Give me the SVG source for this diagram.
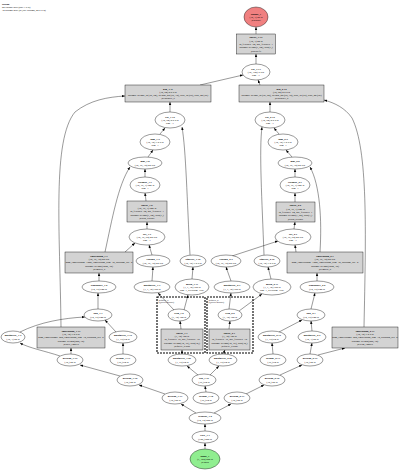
<svg xmlns="http://www.w3.org/2000/svg" width="400" height="470" viewBox="0 0 400 470">
<style>
.t{font-family:"Liberation Serif","DejaVu Serif",serif;font-size:2.7px;text-anchor:middle;fill:#000}
.h{font-family:"Liberation Serif","DejaVu Serif",serif;font-size:2.6px;fill:#000}
.s{font-family:"Liberation Serif","DejaVu Serif",serif;font-size:2.4px;fill:#000}
.b{font-weight:bold}
.e{fill:#fff;stroke:#000;stroke-width:0.4}
.p{fill:#d3d3d3;stroke:#000;stroke-width:0.4}
.c{fill:none;stroke:#000;stroke-width:1.1;stroke-dasharray:2 1}
.l{fill:none;stroke:#000;stroke-width:0.4;marker-end:url(#a)}
</style>
<defs>
<marker id="a" viewBox="0 0 10 10" refX="10" refY="5" markerWidth="3" markerHeight="3" markerUnits="userSpaceOnUse" orient="auto"><path d="M0,1L10,5L0,9z" fill="#000"/></marker>
</defs>
<rect width="400" height="470" fill="#fff"/>
<g id="header">
<text class="h b" x="2" y="4.5">Debug</text>
<text class="h" x="2" y="7.8">94 tensors total (297.1 KB)</text>
<text class="h" x="2" y="11.1">34 params total (23,681 params, 92.5 KB)</text>
</g>
<g id="clusters">
<g id="cluster_query_a"><rect class="c" x="157" y="297" width="48" height="56"/><text class="s" x="158.5" y="300.5">@query_a</text><text class="s" x="158.5" y="303.3">(QueryEncoder)</text></g>
<g id="cluster_query_b"><rect class="c" x="207" y="297" width="46" height="56"/><text class="s" x="208.5" y="300.5">@query_b</text><text class="s" x="208.5" y="303.3">(QueryEncoder)</text></g>
</g>
<g id="connectors">
<path class="l" d="M205,449L205,443"/>
<path class="l" d="M205,431L205,424"/>
<path class="l" d="M196,413L181,404"/>
<path class="l" d="M214,413L231,404"/>
<path class="l" d="M206,392L205,386"/>
<path class="l" d="M198,375L187,366"/>
<path class="l" d="M210,375L219,366"/>
<path class="l" d="M182,354L182,350"/>
<path class="l" d="M223,354L225,350"/>
<path class="l" d="M181,329L180,321"/>
<path class="l" d="M229,329L230,321"/>
<path class="l" d="M174,310L158,293"/>
<path class="l" d="M184,310L188,295"/>
<path class="l" d="M229,309L231,293"/>
<path class="l" d="M239,311L262,294"/>
<path class="l" d="M152,281L153,267"/>
<path class="l" d="M192,279L193,267"/>
<path class="l" d="M231,281L226,267"/>
<path class="l" d="M271,279L268,267"/>
<path class="l" d="M152,255L149,245"/>
<path class="l" d="M125,252L135,243"/>
<path class="l" d="M232,256L278,241"/>
<path class="l" d="M296,252L295,245"/>
<path class="l" d="M99,281L99,273"/>
<path class="l" d="M317,281L317,273"/>
<path class="l" d="M98,309L98,293"/>
<path class="l" d="M311,309L315,293"/>
<path class="l" d="M116,332L105,320"/>
<path class="l" d="M20,332C40,322 64,318 85,317"/>
<path class="l" d="M279,332L302,320"/>
<path class="l" d="M312,331L311,321"/>
<path class="l" d="M123,354L123,343"/>
<path class="l" d="M273,354L272,343"/>
<path class="l" d="M60,356C45,351 29,348 20,343"/>
<path class="l" d="M71,354L71,348"/>
<path class="l" d="M310,354L312,343"/>
<path class="l" d="M318,355L345,348"/>
<path class="l" d="M120,376L80,365"/>
<path class="l" d="M165,394L139,385"/>
<path class="l" d="M246,394L264,385"/>
<path class="l" d="M280,375L302,365"/>
<path class="l" d="M61,327C60,230 52,140 75,112C90,100 108,97 125,96"/>
<path class="l" d="M364,327C366,230 368,150 352,118C345,108 335,103 324,100"/>
<path class="l" d="M105,252C112,220 118,185 130,167"/>
<path class="l" d="M320,252C322,220 320,185 310,167"/>
<path class="l" d="M190,255C187,200 186,150 182,127"/>
<path class="l" d="M264,255C262,200 259,150 262,127"/>
<path class="l" d="M147,229L147,222"/>
<path class="l" d="M294,229L295,222"/>
<path class="l" d="M146,201L145,193"/>
<path class="l" d="M295,202L295,193"/>
<path class="l" d="M145,177L145,169"/>
<path class="l" d="M295,177L295,169"/>
<path class="l" d="M148,157L153,150"/>
<path class="l" d="M292,157L286,150"/>
<path class="l" d="M160,134L165,128"/>
<path class="l" d="M279,134L274,128"/>
<path class="l" d="M170,112L170,102"/>
<path class="l" d="M270,112L270,102"/>
<path class="l" d="M200,85L243,75"/>
<path class="l" d="M260,85L258,80"/>
<path class="l" d="M256,64L256,54"/>
<path class="l" d="M256,34L256,27"/>
</g>
<g id="output_1"><ellipse cx="256" cy="17" rx="12" ry="10" fill="#f08080" stroke="#000" stroke-width="0.4"/><text class="t" x="256" y="14.65"><tspan class="b">output_1</tspan><tspan x="256" dy="3.3">(10, 1) 40 B</tspan><tspan x="256" dy="3.3">@output</tspan></text></g>
<g id="linear_3_14"><rect class="p" x="236.5" y="34" width="39" height="20"/><text class="t" x="256" y="38.35"><tspan class="b">linear_3.14</tspan><tspan x="256" dy="3.3">(10, 1) 40 B</tspan><tspan x="256" dy="3.3">in_features=64, out_features=1</tspan><tspan x="256" dy="3.3">params: weight(1, 64), bias(1,)</tspan><tspan x="256" dy="3.3">@head.fc</tspan></text></g>
<g id="cat_3_13"><ellipse class="e" cx="256" cy="72" rx="14" ry="8"/><text class="t" x="256" y="69.65"><tspan class="b">cat_3.13</tspan><tspan x="256" dy="3.3">(10, 128) 5 KB</tspan><tspan x="256" dy="3.3">dim=-1</tspan></text></g>
<g id="gru_1_11"><rect class="p" x="125" y="85" width="86" height="17"/><text class="t" x="168" y="89.5"><tspan class="b">gru_1.11</tspan><tspan x="168" dy="3.3">(10, 64) 2.5 KB</tspan><tspan x="168" dy="3.3">params: weight_ih (96, 64), weight_hh (96, 32), bias_ih (96), bias_hh (96)</tspan><tspan x="168" dy="3.3">@encoder_a</tspan></text></g>
<g id="gru_2_12"><rect class="p" x="239" y="85" width="85" height="17"/><text class="t" x="281.5" y="89.5"><tspan class="b">gru_2.12</tspan><tspan x="281.5" dy="3.3">(10, 64) 2.5 KB</tspan><tspan x="281.5" dy="3.3">params: weight_ih (96, 64), weight_hh (96, 32), bias_ih (96), bias_hh (96)</tspan><tspan x="281.5" dy="3.3">@encoder_b</tspan></text></g>
<g id="cat_1_10"><ellipse class="e" cx="170" cy="120" rx="15" ry="8"/><text class="t" x="170" y="117.65"><tspan class="b">cat_1.10</tspan><tspan x="170" dy="3.3">(10, 64) 2.5 KB</tspan><tspan x="170" dy="3.3">dim=-1</tspan></text></g>
<g id="sum_1_9"><ellipse class="e" cx="155" cy="142" rx="15" ry="8"/><text class="t" x="155" y="139.65"><tspan class="b">sum_1.9</tspan><tspan x="155" dy="3.3">(10, 32) 1.2 KB</tspan><tspan x="155" dy="3.3">dim=1</tspan></text></g>
<g id="mul_1_8"><ellipse class="e" cx="145" cy="163" rx="17" ry="6"/><text class="t" x="145" y="162.3"><tspan class="b">mul_1.8</tspan><tspan x="145" dy="3.3">(10, 16, 32) 20 KB</tspan></text></g>
<g id="softmax_1_7"><ellipse class="e" cx="145" cy="185" rx="15" ry="8"/><text class="t" x="145" y="182.65"><tspan class="b">softmax_1.7</tspan><tspan x="145" dy="3.3">(10, 16, 1) 640 B</tspan><tspan x="145" dy="3.3">dim=1</tspan></text></g>
<g id="linear_1_6"><rect class="p" x="127" y="201" width="40" height="21"/><text class="t" x="147" y="205.85"><tspan class="b">linear_1.6</tspan><tspan x="147" dy="3.3">(10, 16, 1) 640 B</tspan><tspan x="147" dy="3.3">in_features=64, out_features=1</tspan><tspan x="147" dy="3.3">params: weight(1, 64), bias(1,)</tspan><tspan x="147" dy="3.3">@attn_a.score</tspan></text></g>
<g id="cat_1_5"><ellipse class="e" cx="147" cy="237" rx="18" ry="8"/><text class="t" x="147" y="234.65"><tspan class="b">cat_1.5</tspan><tspan x="147" dy="3.3">(10, 16, 64) 40 KB</tspan><tspan x="147" dy="3.3">dim=-1</tspan></text></g>
<g id="embedding_1_3"><rect class="p" x="65" y="252" width="68" height="21"/><text class="t" x="99" y="256.85"><tspan class="b">embedding_1.3</tspan><tspan x="99" dy="3.3">(10, 16, 32) 20 KB</tspan><tspan x="99" dy="3.3">num_embeddings=1000, embedding_dim=32, padding_idx=0</tspan><tspan x="99" dy="3.3">params: weight(1000, 32)</tspan><tspan x="99" dy="3.3">@embed_a</tspan></text></g>
<g id="expand_1_4"><ellipse class="e" cx="153" cy="261" rx="17" ry="6"/><text class="t" x="153" y="260.3"><tspan class="b">expand_1.4</tspan><tspan x="153" dy="3.3">(10, 16, 32) 20 KB</tspan></text></g>
<g id="squeeze_1_12"><ellipse class="e" cx="193" cy="261" rx="13" ry="6"/><text class="t" x="193" y="260.3"><tspan class="b">squeeze_1.12</tspan><tspan x="193" dy="3.3">(10, 32) 1.2 KB</tspan></text></g>
<g id="remainder_1_2"><ellipse class="e" cx="99" cy="287" rx="17" ry="6"/><text class="t" x="99" y="286.3"><tspan class="b">remainder_1.2</tspan><tspan x="99" dy="3.3">(10, 16) 640 B</tspan></text></g>
<g id="unsqueeze_1_3"><ellipse class="e" cx="152" cy="287" rx="18" ry="6"/><text class="t" x="152" y="286.3"><tspan class="b">unsqueeze_1.3</tspan><tspan x="152" dy="3.3">(1, 1, 32) 128 B</tspan></text></g>
<g id="mean_1_11"><ellipse class="e" cx="192" cy="287" rx="17" ry="8"/><text class="t" x="192" y="284.65"><tspan class="b">mean_1.11</tspan><tspan x="192" dy="3.3">(1, 1, 32) 128 B</tspan><tspan x="192" dy="3.3">dim=1, keepdim=True</tspan></text></g>
<g id="add_1_1"><ellipse class="e" cx="98" cy="315" rx="14" ry="6"/><text class="t" x="98" y="314.3"><tspan class="b">add_1.1</tspan><tspan x="98" dy="3.3">(10, 16) 640 B</tspan></text></g>
<g id="relu_1_2"><ellipse class="e" cx="179" cy="315" rx="11" ry="6"/><text class="t" x="179" y="314.3"><tspan class="b">relu_1.2</tspan><tspan x="179" dy="3.3">(1, 32) 128 B</tspan></text></g>
<g id="linear_1_1"><rect class="p" x="161" y="329" width="42" height="21"/><text class="t" x="182" y="333.85"><tspan class="b">linear_1.1</tspan><tspan x="182" dy="3.3">(1, 32) 128 B</tspan><tspan x="182" dy="3.3">in_features=16, out_features=32</tspan><tspan x="182" dy="3.3">params: weight(32, 16), bias(32,)</tspan><tspan x="182" dy="3.3">@query_a.proj</tspan></text></g>
<g id="relu_2_2"><ellipse class="e" cx="230" cy="315" rx="12" ry="6"/><text class="t" x="230" y="314.3"><tspan class="b">relu_2.2</tspan><tspan x="230" dy="3.3">(1, 32) 128 B</tspan></text></g>
<g id="linear_2_1"><rect class="p" x="209" y="329" width="41" height="21"/><text class="t" x="229.5" y="333.85"><tspan class="b">linear_2.1</tspan><tspan x="229.5" dy="3.3">(1, 32) 128 B</tspan><tspan x="229.5" dy="3.3">in_features=16, out_features=32</tspan><tspan x="229.5" dy="3.3">params: weight(32, 16), bias(32,)</tspan><tspan x="229.5" dy="3.3">@query_b.proj</tspan></text></g>
<g id="unsqueeze_1_20"><ellipse class="e" cx="182" cy="360" rx="14" ry="6"/><text class="t" x="182" y="359.3"><tspan class="b">unsqueeze_1.20</tspan><tspan x="182" dy="3.3">(1, 16) 64 B</tspan></text></g>
<g id="unsqueeze_2_20"><ellipse class="e" cx="223" cy="360" rx="14" ry="6"/><text class="t" x="223" y="359.3"><tspan class="b">unsqueeze_2.20</tspan><tspan x="223" dy="3.3">(1, 16) 64 B</tspan></text></g>
<g id="flip_1_19"><ellipse class="e" cx="204" cy="380" rx="12" ry="6"/><text class="t" x="204" y="379.3"><tspan class="b">flip_1.19</tspan><tspan x="204" dy="3.3">(16,) 64 B</tspan></text></g>
<g id="getitem_1_17"><ellipse class="e" cx="175" cy="398" rx="13" ry="6"/><text class="t" x="175" y="397.3"><tspan class="b">getitem_1.17</tspan><tspan x="175" dy="3.3">(10,) 40 B</tspan></text></g>
<g id="arange_1_18"><ellipse class="e" cx="206" cy="398" rx="13" ry="6"/><text class="t" x="206" y="397.3"><tspan class="b">arange_1.18</tspan><tspan x="206" dy="3.3">(16,) 64 B</tspan></text></g>
<g id="getitem_2_17"><ellipse class="e" cx="237" cy="398" rx="13" ry="6"/><text class="t" x="237" y="397.3"><tspan class="b">getitem_2.17</tspan><tspan x="237" dy="3.3">(10,) 40 B</tspan></text></g>
<g id="reshape_1_2"><ellipse class="e" cx="205" cy="418" rx="16" ry="6"/><text class="t" x="205" y="417.3"><tspan class="b">reshape_1.2</tspan><tspan x="205" dy="3.3">(10, 10) 400 B</tspan></text></g>
<g id="view_1_1"><ellipse class="e" cx="205" cy="437" rx="13" ry="6"/><text class="t" x="205" y="436.3"><tspan class="b">view_1.1</tspan><tspan x="205" dy="3.3">(100,) 400 B</tspan></text></g>
<g id="input_1"><ellipse cx="205" cy="459" rx="15" ry="10" fill="#90ee90" stroke="#000" stroke-width="0.4"/><text class="t" x="205" y="456.65"><tspan class="b">input_1</tspan><tspan x="205" dy="3.3">(1, 100) 400 B</tspan><tspan x="205" dy="3.3">@input</tspan></text></g>
<g id="getitem_1_16"><ellipse class="e" cx="130" cy="380" rx="13" ry="6"/><text class="t" x="130" y="379.3"><tspan class="b">getitem_1.16</tspan><tspan x="130" dy="3.3">(10,) 40 B</tspan></text></g>
<g id="getitem_1_15"><ellipse class="e" cx="70" cy="360" rx="13" ry="6"/><text class="t" x="70" y="359.3"><tspan class="b">getitem_1.15</tspan><tspan x="70" dy="3.3">(10,) 40 B</tspan></text></g>
<g id="arange_1_13"><ellipse class="e" cx="123" cy="360" rx="13" ry="6"/><text class="t" x="123" y="359.3"><tspan class="b">arange_1.13</tspan><tspan x="123" dy="3.3">(16,) 64 B</tspan></text></g>
<g id="unsqueeze_1_14"><ellipse class="e" cx="123" cy="337" rx="14" ry="6"/><text class="t" x="123" y="336.3"><tspan class="b">unsqueeze_1.14</tspan><tspan x="123" dy="3.3">(1, 16) 64 B</tspan></text></g>
<g id="unsqueeze_1_4"><ellipse class="e" cx="13" cy="337" rx="12" ry="6"/><text class="t" x="13" y="336.3"><tspan class="b">unsqueeze_1.4</tspan><tspan x="13" dy="3.3">(10, 1) 40 B</tspan></text></g>
<g id="embedding_1_13"><rect class="p" x="37" y="327" width="68" height="21"/><text class="t" x="71" y="331.85"><tspan class="b">embedding_1.13</tspan><tspan x="71" dy="3.3">(10, 32) 1.2 KB</tspan><tspan x="71" dy="3.3">num_embeddings=500, embedding_dim=32, padding_idx=0</tspan><tspan x="71" dy="3.3">params: weight(500, 32)</tspan><tspan x="71" dy="3.3">@user_embed</tspan></text></g>
<g id="getitem_2_16"><ellipse class="e" cx="272" cy="380" rx="13" ry="6"/><text class="t" x="272" y="379.3"><tspan class="b">getitem_2.16</tspan><tspan x="272" dy="3.3">(10,) 40 B</tspan></text></g>
<g id="getitem_2_15"><ellipse class="e" cx="310" cy="360" rx="13" ry="6"/><text class="t" x="310" y="359.3"><tspan class="b">getitem_2.15</tspan><tspan x="310" dy="3.3">(10,) 40 B</tspan></text></g>
<g id="arange_2_13"><ellipse class="e" cx="273" cy="360" rx="13" ry="6"/><text class="t" x="273" y="359.3"><tspan class="b">arange_2.13</tspan><tspan x="273" dy="3.3">(16,) 64 B</tspan></text></g>
<g id="unsqueeze_2_14"><ellipse class="e" cx="272" cy="337" rx="14" ry="6"/><text class="t" x="272" y="336.3"><tspan class="b">unsqueeze_2.14</tspan><tspan x="272" dy="3.3">(1, 16) 64 B</tspan></text></g>
<g id="unsqueeze_2_4"><ellipse class="e" cx="312" cy="337" rx="14" ry="6"/><text class="t" x="312" y="336.3"><tspan class="b">unsqueeze_2.4</tspan><tspan x="312" dy="3.3">(10, 1) 40 B</tspan></text></g>
<g id="embedding_2_13"><rect class="p" x="332" y="327" width="66" height="21"/><text class="t" x="365" y="331.85"><tspan class="b">embedding_2.13</tspan><tspan x="365" dy="3.3">(10, 32) 1.2 KB</tspan><tspan x="365" dy="3.3">num_embeddings=500, embedding_dim=32, padding_idx=0</tspan><tspan x="365" dy="3.3">params: weight(500, 32)</tspan><tspan x="365" dy="3.3">@item_embed</tspan></text></g>
<g id="add_2_1"><ellipse class="e" cx="311" cy="315" rx="14" ry="6"/><text class="t" x="311" y="314.3"><tspan class="b">add_2.1</tspan><tspan x="311" dy="3.3">(10, 16) 640 B</tspan></text></g>
<g id="remainder_2_2"><ellipse class="e" cx="317" cy="287" rx="17" ry="6"/><text class="t" x="317" y="286.3"><tspan class="b">remainder_2.2</tspan><tspan x="317" dy="3.3">(10, 16) 640 B</tspan></text></g>
<g id="mean_2_11"><ellipse class="e" cx="272" cy="287" rx="19" ry="8"/><text class="t" x="272" y="284.65"><tspan class="b">mean_2.11</tspan><tspan x="272" dy="3.3">(1, 1, 32) 128 B</tspan><tspan x="272" dy="3.3">dim=1, keepdim=True</tspan></text></g>
<g id="unsqueeze_2_3"><ellipse class="e" cx="232" cy="287" rx="18" ry="6"/><text class="t" x="232" y="286.3"><tspan class="b">unsqueeze_2.3</tspan><tspan x="232" dy="3.3">(1, 1, 32) 128 B</tspan></text></g>
<g id="expand_2_4"><ellipse class="e" cx="226" cy="261" rx="15" ry="6"/><text class="t" x="226" y="260.3"><tspan class="b">expand_2.4</tspan><tspan x="226" dy="3.3">(10, 16, 32) 20 KB</tspan></text></g>
<g id="squeeze_2_12"><ellipse class="e" cx="267" cy="261" rx="13" ry="6"/><text class="t" x="267" y="260.3"><tspan class="b">squeeze_2.12</tspan><tspan x="267" dy="3.3">(10, 32) 1.2 KB</tspan></text></g>
<g id="embedding_2_3"><rect class="p" x="287" y="252" width="76" height="21"/><text class="t" x="325" y="256.85"><tspan class="b">embedding_2.3</tspan><tspan x="325" dy="3.3">(10, 16, 32) 20 KB</tspan><tspan x="325" dy="3.3">num_embeddings=1000, embedding_dim=32, padding_idx=0</tspan><tspan x="325" dy="3.3">params: weight(1000, 32)</tspan><tspan x="325" dy="3.3">@embed_b</tspan></text></g>
<g id="cat_2_5"><ellipse class="e" cx="293" cy="237" rx="18" ry="8"/><text class="t" x="293" y="234.65"><tspan class="b">cat_2.5</tspan><tspan x="293" dy="3.3">(10, 16, 64) 40 KB</tspan><tspan x="293" dy="3.3">dim=-1</tspan></text></g>
<g id="linear_2_6"><rect class="p" x="276" y="202" width="39" height="20"/><text class="t" x="295.5" y="206.35"><tspan class="b">linear_2.6</tspan><tspan x="295.5" dy="3.3">(10, 16, 1) 640 B</tspan><tspan x="295.5" dy="3.3">in_features=64, out_features=1</tspan><tspan x="295.5" dy="3.3">params: weight(1, 64), bias(1,)</tspan><tspan x="295.5" dy="3.3">@attn_b.score</tspan></text></g>
<g id="softmax_2_7"><ellipse class="e" cx="295" cy="185" rx="15" ry="8"/><text class="t" x="295" y="182.65"><tspan class="b">softmax_2.7</tspan><tspan x="295" dy="3.3">(10, 16, 1) 640 B</tspan><tspan x="295" dy="3.3">dim=1</tspan></text></g>
<g id="mul_2_8"><ellipse class="e" cx="295" cy="163" rx="17" ry="6"/><text class="t" x="295" y="162.3"><tspan class="b">mul_2.8</tspan><tspan x="295" dy="3.3">(10, 16, 32) 20 KB</tspan></text></g>
<g id="sum_2_9"><ellipse class="e" cx="283" cy="142" rx="15" ry="8"/><text class="t" x="283" y="139.65"><tspan class="b">sum_2.9</tspan><tspan x="283" dy="3.3">(10, 32) 1.2 KB</tspan><tspan x="283" dy="3.3">dim=1</tspan></text></g>
<g id="cat_2_10"><ellipse class="e" cx="270" cy="120" rx="15" ry="8"/><text class="t" x="270" y="117.65"><tspan class="b">cat_2.10</tspan><tspan x="270" dy="3.3">(10, 64) 2.5 KB</tspan><tspan x="270" dy="3.3">dim=-1</tspan></text></g>
</svg>
